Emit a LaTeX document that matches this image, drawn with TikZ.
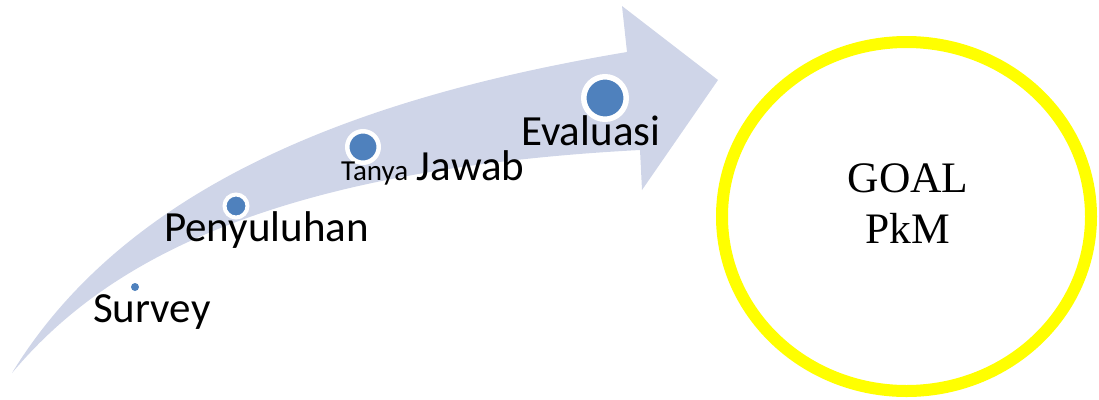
\documentclass[tikz,border=0pt]{standalone}
\usepackage{fontspec}
\setmainfont{Carlito}
\newfontfamily\goalfont{Liberation Serif}
\definecolor{bandcol}{RGB}{207,213,232}
\definecolor{dotcol}{RGB}{79,129,189}
\definecolor{ringcol}{RGB}{255,255,0}
\begin{document}
\begin{tikzpicture}[x=1bp,y=-1bp,
  dot/.style={circle,fill=dotcol,draw=white,inner sep=0pt},
  lbl/.style={inner sep=0pt,anchor=base west,font=\fontsize{43bp}{50bp}\selectfont},
  goaltxt/.style={inner sep=0pt,anchor=base,font=\goalfont\fontsize{43.5bp}{51bp}\selectfont}]
\useasboundingbox (0,0) rectangle (1099,399);
% curved arrow
\fill[bandcol] (12,373) .. controls (130,180) and (370,95) .. (627,52)
  -- (622,6) -- (718,80) -- (642,190) -- (640,150)
  .. controls (260,170) and (100,268) .. (12,373) -- cycle;
% dots
\node[dot,draw=none,minimum size=8bp] (d1) at (135,287) {};
\node[dot,line width=4bp,minimum size=23bp] (d2) at (236,206) {};
\node[dot,line width=4.5bp,minimum size=31.5bp] (d3) at (363,147) {};
\node[dot,line width=5.5bp,minimum size=42.5bp] (d4) at (605,98) {};
% labels
\node[lbl] (l1) at (93,322) {Survey};
\node[lbl] (l2) at (164,241) {Penyuluhan};
\node[lbl] (l3) at (341,180) {{\fontsize{29bp}{34bp}\selectfont Tanya}\hspace{-1bp} Jawab};
\node[lbl] (l4) at (521,145) {Evaluasi};
% goal circle
\draw[ringcol,line width=12bp] (906.5,216.5) ellipse [x radius=184.5,y radius=174.5];
\node[goaltxt] (g1) at (908,192) {GOAL};
\node[goaltxt] (g2) at (908,243) {PkM};
\end{tikzpicture}
\end{document}
